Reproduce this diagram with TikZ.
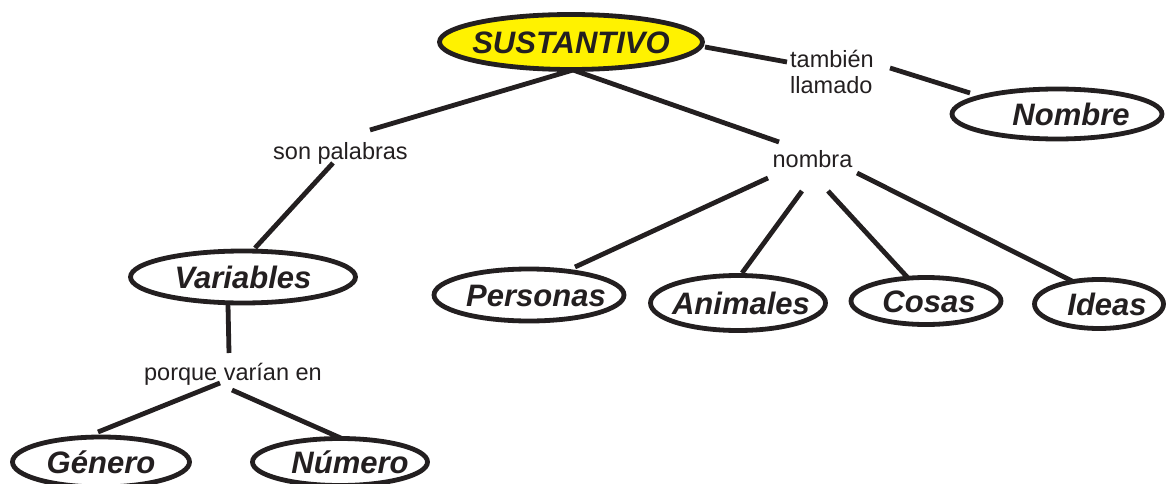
\documentclass[tikz,border=0pt]{standalone}
\usepackage{fontspec}
\setmainfont{Liberation Sans}
\usetikzlibrary{shapes.geometric,calc,backgrounds}
\definecolor{ink}{RGB}{35,31,32}
\definecolor{sun}{RGB}{255,242,0}
\newcommand{\ctext}[2][0pt]{\makebox[0pt]{\hspace*{#1}#2}}
\tikzset{
  concept/.style={ellipse, draw=ink, line width=4.8pt, fill=white, inner sep=0pt,
    text=ink, text height=22.3pt, text depth=0pt,
    font=\fontsize{31}{36}\selectfont\bfseries\itshape},
  linker/.style={text=ink, inner sep=0pt, font=\fontsize{23.5}{26}\selectfont},
  conn/.style={draw=ink, line width=4.8pt},
}
\begin{document}
\begin{tikzpicture}[x=1pt,y=-1pt]
\useasboundingbox (0,0) rectangle (1166,484);
% concepts
\node[concept, fill=sun, minimum width=263pt, minimum height=55pt] (sust) at (571,42) {\ctext{SUSTANTIVO}};
\node[concept, minimum width=210pt, minimum height=50pt] (nombre) at (1057,114) {\ctext[28pt]{Nombre}};
\node[concept, minimum width=225pt, minimum height=52pt] (variables) at (243,277) {\ctext{Variables}};
\node[concept, minimum width=190pt, minimum height=52pt] (personas) at (529,295) {\ctext[14pt]{Personas}};
\node[concept, minimum width=175pt, minimum height=55pt] (animales) at (738,303) {\ctext[6pt]{Animales}};
\node[concept, minimum width=150pt, minimum height=47pt] (cosas) at (926,301) {\ctext[6pt]{Cosas}};
\node[concept, minimum width=129pt, minimum height=49pt] (ideas) at (1099,304) {\ctext[16pt]{Ideas}};
\node[concept, minimum width=177pt, minimum height=50pt] (genero) at (101,462) {\ctext{Género}};
\node[concept, minimum width=175pt, minimum height=47pt] (numero) at (340,462) {\ctext[20pt]{Número}};
% linking phrases
\node[linker, anchor=west, align=left] (tambien) at (790,71.5) {también\\llamado};
\node[linker, anchor=base] (son) at (340.5,159) {son palabras};
\node[linker, anchor=base] (nombra) at (812.5,167) {nombra};
\node[linker, anchor=base] (porque) at (233,380) {porque varían en};
% connectors
\begin{scope}[on background layer]
\draw[conn] ($(sust.center)+(134,5)$) -- ($(tambien.west)+(-3,-9.5)$);
\draw[conn] ($(tambien.west)+(100,-3.5)$) -- ($(nombre.center)+(-87,-21)$);
\draw[conn] ($(sust.center)+(2,28)$) -- ($(son.base)+(29.5,-29)$);
\draw[conn] ($(sust.center)+(2,28)$) -- ($(nombra.base)+(-33.5,-25)$);
\draw[conn] ($(son.base)+(-7.5,4)$) -- ($(variables.center)+(12,-29)$);
\draw[conn] ($(variables.center)+(-15,28)$) -- ($(porque.base)+(-4,-27)$);
\draw[conn] ($(porque.base)+(-13,3)$) -- ($(genero.center)+(-3,-30)$);
\draw[conn] ($(porque.base)+(-1,10)$) -- ($(numero.center)+(12,-19)$);
\draw[conn] ($(nombra.base)+(-44.5,11)$) -- ($(personas.center)+(46,-28)$);
\draw[conn] ($(nombra.base)+(-10.5,24)$) -- ($(animales.center)+(4,-30)$);
\draw[conn] ($(nombra.base)+(15.5,24)$) -- ($(cosas.center)+(-18,-23)$);
\draw[conn] ($(nombra.base)+(44.5,6)$) -- ($(ideas.center)+(-19,-19)$);
\end{scope}
\end{tikzpicture}
\end{document}
